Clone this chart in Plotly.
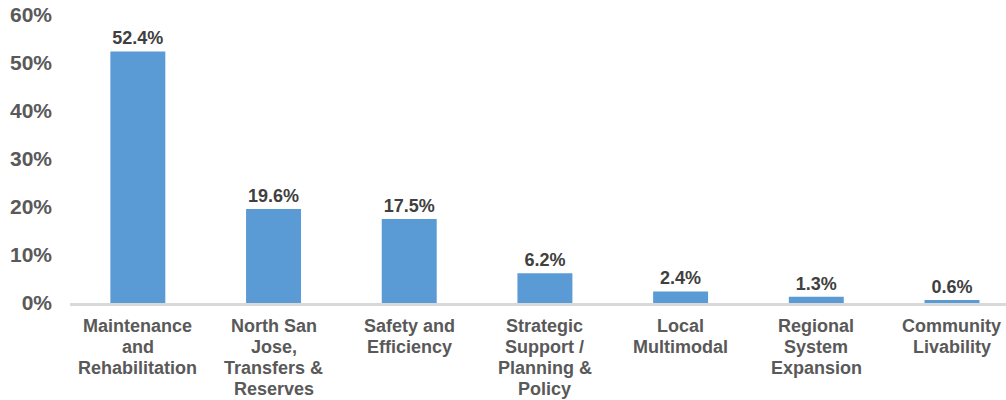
import plotly.graph_objects as go

categories = ["Maintenance<br>and<br>Rehabilitation", "North San<br>Jose,<br>Transfers &<br>Reserves",
              "Safety and<br>Efficiency", "Strategic<br>Support /<br>Planning &<br>Policy",
              "Local<br>Multimodal", "Regional<br>System<br>Expansion", "Community<br>Livability"]
values = [52.4, 19.6, 17.5, 6.2, 2.4, 1.3, 0.6]
tick_vals = [0, 10, 20, 30, 40, 50, 60]
tick_text = ["0%", "10%", "20%", "30%", "40%", "50%", "60%"]

FONT = "Liberation Sans, Arial"

fig = go.Figure(go.Bar(
    x=categories, y=values, marker_color="#5B9BD5", marker_line_width=0,
    width=0.405,
    text=[f"{v:.1f}%" for v in values], textposition="outside", cliponaxis=False,
    textfont=dict(family=FONT, size=18, color="#404040", weight="bold"),
))

# category labels, one annotation per line for tight line spacing
for cat in categories:
    for i, line in enumerate(cat.split("<br>")):
        fig.add_annotation(x=cat, xref="x", y=0, yref="paper", text=line, showarrow=False,
                           yanchor="middle", yshift=-(23 + 21 * i),
                           font=dict(family=FONT, size=18, color="#595959", weight="bold"))

fig.update_layout(
    width=1006, height=400, margin=dict(l=70, r=0, t=15, b=97),
    plot_bgcolor="white", paper_bgcolor="white", showlegend=False,
    font=dict(family=FONT, color="#595959"),
)
fig.update_xaxes(range=[-0.5, 6.398], automargin=False, showline=True, linecolor="#d9d9d9",
                 linewidth=3, ticks="", showticklabels=False)
fig.update_yaxes(range=[0, 60], tickvals=tick_vals, ticktext=tick_text, showgrid=False,
                 automargin=False, zeroline=False, showline=False, ticklabeloverflow="allow",
                 tickfont=dict(size=21, color="#595959", family=FONT, weight="bold"),
                 ticklabelstandoff=17)
fig.write_html("out.html", config={"displayModeBar": False},
               post_script="document.body.style.margin='0';document.body.style.overflow='hidden';")
